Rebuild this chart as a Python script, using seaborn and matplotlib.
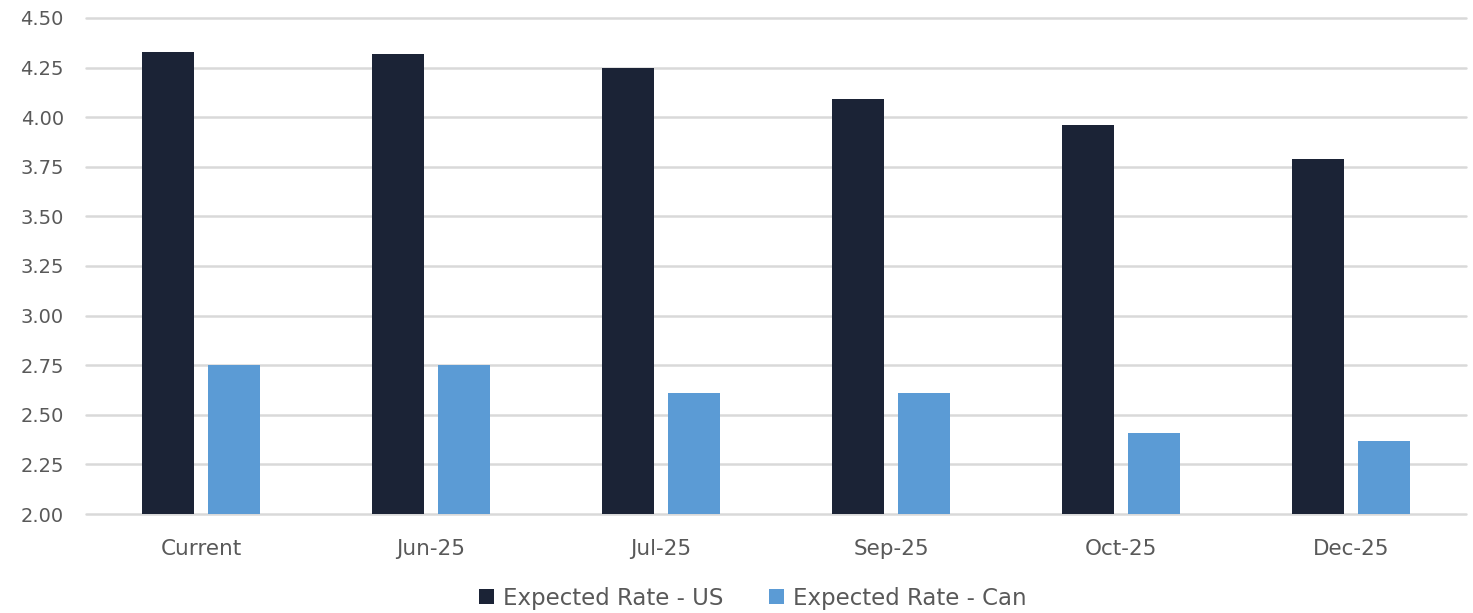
import matplotlib
matplotlib.use("Agg")
import matplotlib.pyplot as plt
import seaborn as sns
import pandas as pd
from matplotlib.patches import Patch

categories = ["Current", "Jun-25", "Jul-25", "Sep-25", "Oct-25", "Dec-25"]
us_rates = [4.33, 4.32, 4.25, 4.09, 3.96, 3.79]
can_rates = [2.75, 2.75, 2.61, 2.61, 2.41, 2.37]
series_names = ["Expected Rate - US", "Expected Rate - Can"]
colors = ["#1B2336", "#5B9BD5"]

df = pd.DataFrame({
    "Category": categories * 2,
    "Series": [series_names[0]] * len(categories) + [series_names[1]] * len(categories),
    "Rate": us_rates + can_rates,
})

sns.set_theme(style="white")
plt.rcParams["font.family"] = ["DejaVu Sans"]

fig = plt.figure(figsize=(14.73, 6.13), dpi=100)
ax = fig.add_axes([86 / 1473, 1 - 514 / 613, (1466 - 86) / 1473, (514 - 18) / 613])

sns.barplot(data=df, x="Category", y="Rate", hue="Series", order=categories,
            hue_order=series_names, palette=colors, width=0.574, gap=0.21,
            saturation=1, ax=ax, legend=False, linewidth=0, edgecolor="none")

ax.set_ylim(2.0, 4.5)
ax.set_xlim(-0.5, len(categories) - 0.5)
ax.set_yticks([2.0, 2.25, 2.5, 2.75, 3.0, 3.25, 3.5, 3.75, 4.0, 4.25, 4.5])
ax.set_yticklabels([f"{v:.2f}" for v in ax.get_yticks()])
ax.yaxis.grid(True, color="#D9D9D9", linewidth=1.8)
for gl in ax.get_ygridlines():
    gl.set_clip_on(False)
ax.set_axisbelow(True)
for s in ax.spines.values():
    s.set_visible(False)
ax.tick_params(axis="both", length=0, colors="#595959")
ax.tick_params(axis="x", pad=18, labelsize=15.5)
ax.tick_params(axis="y", pad=16, labelsize=14)
ax.set_xlabel("")
ax.set_ylabel("")

handles = [Patch(facecolor=c, edgecolor="none") for c in colors]
fig.legend(handles, series_names, loc="center", bbox_to_anchor=(753 / 1473, 1 - 598 / 613),
           ncol=2, frameon=False, fontsize=16.5, handlelength=0.65, handleheight=0.65,
           handletextpad=0.4, columnspacing=2.0, labelcolor="#595959")

fig.savefig("out.png", dpi=100)
